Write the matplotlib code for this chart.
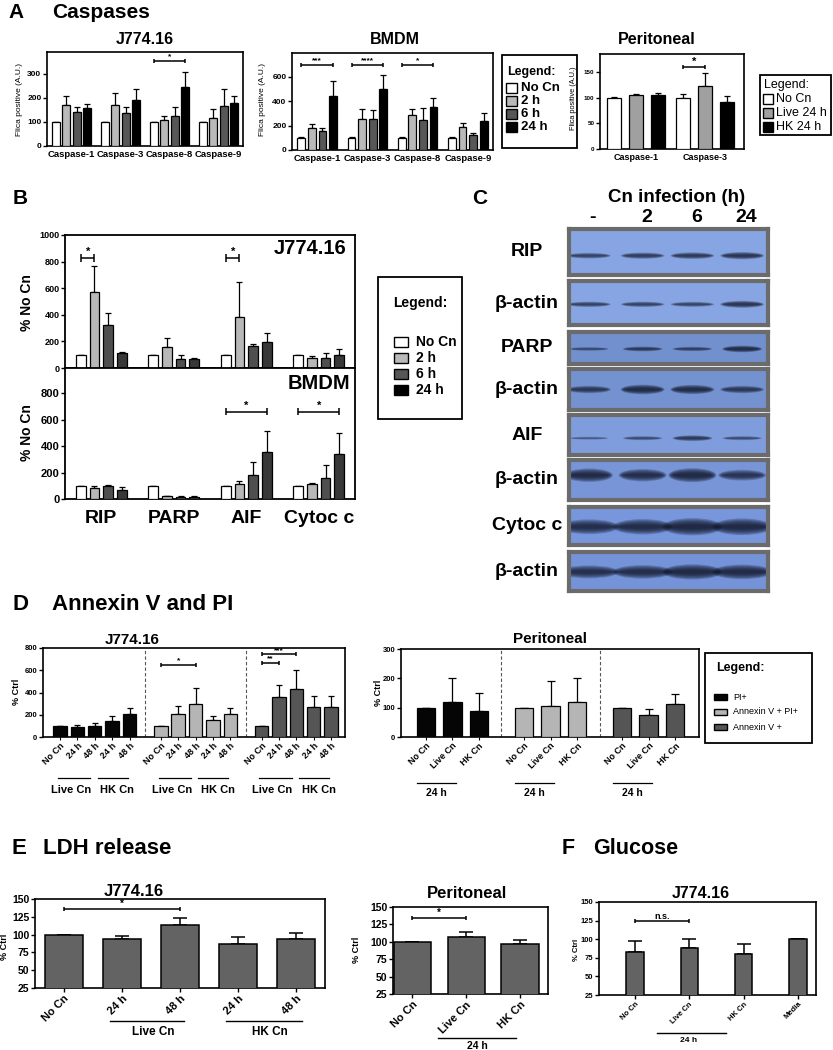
import numpy as np
import matplotlib
matplotlib.use("Agg")
import matplotlib.pyplot as plt
from matplotlib.patches import Rectangle, Ellipse
from matplotlib.transforms import blended_transform_factory as blend

plt.rcParams['font.family'] = ['Liberation Sans', 'DejaVu Sans']
plt.rcParams['font.weight'] = 'bold'

# ---------------- data ----------------
# Panel A : caspases
caspases = ['Caspase-1', 'Caspase-3', 'Caspase-8', 'Caspase-9']
a_j774_nocn = [100, 100, 100, 100]
a_j774_2h = [172, 172, 106, 117]
a_j774_6h = [140, 137, 126, 167]
a_j774_24h = [157, 189, 244, 177]
a_j774_nocn_err = [0, 0, 0, 0]
a_j774_2h_err = [35, 46, 17, 35]
a_j774_6h_err = [20, 24, 35, 69]
a_j774_24h_err = [18, 47, 62, 30]

a_bmdm_nocn = [100, 100, 100, 100]
a_bmdm_2h = [184, 252, 290, 189]
a_bmdm_6h = [156, 255, 249, 123]
a_bmdm_24h = [444, 499, 351, 238]
a_bmdm_nocn_err = [6, 6, 6, 6]
a_bmdm_2h_err = [30, 82, 50, 36]
a_bmdm_6h_err = [25, 71, 96, 19]
a_bmdm_24h_err = [120, 117, 79, 66]

peri_caspases = ['Caspase-1', 'Caspase-3']
a_peri_nocn = [100, 100]
a_peri_live = [106, 124]
a_peri_hk = [106, 93]
a_peri_nocn_err = [2, 8]
a_peri_live_err = [2, 24]
a_peri_hk_err = [4, 11]

time_legend = ['No Cn', '2 h', '6 h', '24 h']
peri_legend = ['No Cn', 'Live 24 h', 'HK 24 h']

# Panel B : western blot quantification
proteins = ['RIP', 'PARP', 'AIF', 'Cytoc c']
b_j774_nocn = [100, 100, 100, 100]
b_j774_2h = [574, 160, 386, 73]
b_j774_6h = [323, 68, 165, 78]
b_j774_24h = [115, 65, 198, 95]
b_j774_nocn_err = [0, 0, 0, 0]
b_j774_2h_err = [190, 63, 258, 15]
b_j774_6h_err = [88, 32, 13, 32]
b_j774_24h_err = [8, 10, 63, 45]
b_bmdm_nocn = [100, 100, 100, 100]
b_bmdm_2h = [85, 20, 110, 110]
b_bmdm_6h = [95, 18, 180, 160]
b_bmdm_24h = [70, 17, 355, 340]
b_bmdm_nocn_err = [0, 0, 0, 0]
b_bmdm_2h_err = [10, 3, 25, 8]
b_bmdm_6h_err = [8, 3, 100, 100]
b_bmdm_24h_err = [22, 3, 160, 160]

# Panel C : band intensities per lane (-, 2, 6, 24 h)
blot_labels = ['RIP', 'β-actin', 'PARP', 'β-actin', 'AIF', 'β-actin', 'Cytoc c', 'β-actin']
lane_labels = ['-', '2', '6', '24']
c_rip = [0.45, 0.55, 0.6, 0.7]
c_actin1 = [0.45, 0.45, 0.4, 0.7]
c_parp = [0.3, 0.55, 0.45, 0.9]
c_actin2 = [0.6, 0.9, 0.85, 0.6]
c_aif = [0.1, 0.3, 0.6, 0.3]
c_actin3 = [0.9, 0.8, 0.95, 0.65]
c_cytoc = [0.8, 0.85, 1.0, 0.95]
c_actin4 = [0.75, 0.8, 0.95, 0.9]

# Panel D : Annexin V and PI
d_j774_labels = ['No Cn', '24 h', '48 h', '24 h', '48 h']
d_j774_pi = [100, 90, 100, 143, 209]
d_j774_pi_err = [0, 20, 25, 42, 48]
d_j774_avpi = [100, 209, 296, 155, 206]
d_j774_avpi_err = [0, 66, 146, 30, 54]
d_j774_av = [100, 361, 430, 272, 272]
d_j774_av_err = [0, 102, 170, 101, 95]

d_peri_labels = ['No Cn', 'Live Cn', 'HK Cn']
d_peri_pi = [100, 120, 87]
d_peri_pi_err = [0, 81, 63]
d_peri_avpi = [100, 107, 118]
d_peri_avpi_err = [0, 83, 82]
d_peri_av = [100, 74, 112]
d_peri_av_err = [0, 23, 35]
d_legend = ['PI+', 'Annexin V + PI+', 'Annexin V +']

# Panel E : LDH release
e_j774_labels = ['No Cn', '24 h', '48 h', '24 h', '48 h']
e_j774 = [100, 94, 113, 87, 94]
e_j774_err = [0, 3.5, 10, 10, 8]
e_peri_labels = ['No Cn', 'Live Cn', 'HK Cn']
e_peri = [100, 107, 97.5]
e_peri_err = [0, 7, 5.5]

# Panel F : Glucose
f_labels = ['No Cn', 'Live Cn', 'HK Cn', 'Media']
f_j774 = [82.5, 87.5, 79.5, 100]
f_j774_err = [14.5, 13, 14.5, 0]

# ---------------- helpers ----------------
W, H = 833, 1050
fig = plt.figure(figsize=(W / 100, H / 100), dpi=100)
fig.patch.set_facecolor('white')


def axpx(x0, y0, x1, y1):
    return fig.add_axes([x0 / W, 1 - y1 / H, (x1 - x0) / W, (y1 - y0) / H])


over = fig.add_axes([0, 0, 1, 1], zorder=20)
over.set_xlim(0, W)
over.set_ylim(H, 0)
over.axis('off')


def bar_series(ax, x, vals, errs, color, width, cap=2.0, lw=0.9):
    x = np.asarray(x, dtype=float)
    ax.bar(x, vals, width, color=color, edgecolor='black', linewidth=lw, zorder=3)
    ax.errorbar(x, vals, yerr=[np.zeros(len(vals)), errs], fmt='none', ecolor='black',
                elinewidth=lw, capsize=cap, capthick=lw, zorder=2)


def sig(ax, x0, x1, y, txt, dy, fs=7, lw=1.1):
    kw = dict(color='black', lw=lw, clip_on=False, zorder=5, solid_capstyle='butt')
    ax.plot([x0, x1], [y, y], **kw)
    ax.plot([x0, x0], [y - dy, y + dy], **kw)
    ax.plot([x1, x1], [y - dy, y + dy], **kw)
    ax.text((x0 + x1) / 2, y + dy * 0.3, txt, ha='center', va='bottom', fontsize=fs,
            fontweight='bold', zorder=5)


def style(ax, ylim, yticks, fs, lw=1.2):
    ax.set_ylim(*ylim)
    ax.set_yticks(yticks)
    ax.tick_params(axis='y', length=3, width=1, labelsize=fs, pad=1)
    for s in ax.spines.values():
        s.set_linewidth(lw)


def legend_box(x0, y0, x1, y1, title, title_xy, title_fs, title_w,
               labels, colors, ys, px, pw, ph, tx, fs, w):
    over.add_patch(Rectangle((x0, y0), x1 - x0, y1 - y0, facecolor='white',
                             edgecolor='black', lw=1.3))
    over.text(title_xy[0], title_xy[1], title, fontsize=title_fs, fontweight=title_w,
              va='center', ha='left')
    for lab, col, y in zip(labels, colors, ys):
        over.add_patch(Rectangle((px, y - ph / 2), pw, ph, facecolor=col,
                                 edgecolor='black', lw=1.0))
        over.text(tx, y, lab, fontsize=fs, fontweight=w, va='center', ha='left')


casp_cols = ['white', '#b9b9b9', '#575757', 'black']
b_cols = ['white', '#b8b8b8', '#4f4f4f', '#383838']
peri_cols = ['white', '#a0a0a0', 'black']
d_cols = ['#050505', '#b5b5b5', '#555555']
ef_col = '#636363'

# ================= Panel A =================
over.text(8, 13, 'A', fontsize=15, va='center', ha='left')
over.text(52, 13, 'Caspases', fontsize=15, va='center', ha='left')

off4 = np.array([-0.315, -0.105, 0.105, 0.315])
g4 = np.arange(4)

ax = axpx(47, 52, 243, 146)
for k, (v, e) in enumerate([(a_j774_nocn, a_j774_nocn_err), (a_j774_2h, a_j774_2h_err),
                            (a_j774_6h, a_j774_6h_err), (a_j774_24h, a_j774_24h_err)]):
    bar_series(ax, g4 + off4[k], v, e, casp_cols[k], 0.16, cap=2)
ax.set_xlim(-0.5, 3.5)
style(ax, (0, 390), [0, 100, 200, 300], 6)
ax.set_xticks(g4, caspases, fontsize=6.8)
ax.tick_params(axis='x', length=0, pad=3)
sig(ax, 2 + off4[0], 2 + off4[3], 352, '*', 9, fs=6)
over.text(145, 40, 'J774.16', fontsize=11.5, ha='center', va='center')
over.text(20, 100, 'Flica positive (A.U.)', fontsize=6, fontweight='normal',
          rotation=90, ha='center', va='center')

ax = axpx(292, 53, 493, 150)
for k, (v, e) in enumerate([(a_bmdm_nocn, a_bmdm_nocn_err), (a_bmdm_2h, a_bmdm_2h_err),
                            (a_bmdm_6h, a_bmdm_6h_err), (a_bmdm_24h, a_bmdm_24h_err)]):
    bar_series(ax, g4 + off4[k], v, e, casp_cols[k], 0.155, cap=2)
ax.set_xlim(-0.5, 3.5)
style(ax, (0, 795), [0, 200, 400, 600], 6)
ax.set_xticks(g4, caspases, fontsize=6.8)
ax.tick_params(axis='x', length=0, pad=3)
sig(ax, 0 + off4[0], 0 + off4[3], 699, '***', 18, fs=6)
sig(ax, 1 + off4[0], 1 + off4[3], 699, '****', 18, fs=6)
sig(ax, 2 + off4[0], 2 + off4[3], 699, '*', 18, fs=6)
over.text(395, 40, 'BMDM', fontsize=11.5, ha='center', va='center')
over.text(263, 100, 'Flica positive (A.U.)', fontsize=6, fontweight='normal',
          rotation=90, ha='center', va='center')

legend_box(502, 55, 577, 148, 'Legend:', (507, 72), 9, 'bold', time_legend, casp_cols,
           [88, 101, 114, 127], 506, 11, 10, 521, 9.5, 'bold')

off3 = np.array([-0.32, 0.0, 0.32])
g2 = np.arange(2)
ax = axpx(600, 54, 744, 149)
for k, (v, e) in enumerate([(a_peri_nocn, a_peri_nocn_err), (a_peri_live, a_peri_live_err),
                            (a_peri_hk, a_peri_hk_err)]):
    bar_series(ax, g2 + off3[k], v, e, peri_cols[k], 0.2, cap=2.5)
ax.set_xlim(-0.52, 1.57)
style(ax, (0, 186), [0, 50, 100, 150], 4.5)
ax.set_xticks(g2, peri_caspases, fontsize=6.5)
ax.tick_params(axis='x', length=0, pad=3)
sig(ax, 1 + off3[0], 1 + off3[1], 160, '*', 4, fs=8)
over.text(657, 40, 'Peritoneal', fontsize=11.5, ha='center', va='center')
over.text(574, 98, 'Flica positive (A.U.)', fontsize=5.3, fontweight='normal',
          rotation=90, ha='center', va='center')

legend_box(760, 75, 831, 135, 'Legend:', (764, 85), 9, 'normal', peri_legend, peri_cols,
           [99, 113, 127], 763, 10, 10, 776, 9, 'normal')

# ================= Panel B =================
over.text(13, 199, 'B', fontsize=15, va='center', ha='left')
offb = np.array([-0.28, -0.0935, 0.0935, 0.28])

axu = axpx(65, 235, 355, 368)
for k, (v, e) in enumerate([(b_j774_nocn, b_j774_nocn_err), (b_j774_2h, b_j774_2h_err),
                            (b_j774_6h, b_j774_6h_err), (b_j774_24h, b_j774_24h_err)]):
    bar_series(axu, g4 + offb[k], v, e, b_cols[k], 0.137, cap=2.5)
axu.set_xlim(-0.5, 3.5)
style(axu, (0, 1000), [0, 200, 400, 600, 800, 1000], 6.5, lw=1.3)
axu.set_xticks([])
sig(axu, 0 + offb[0], 0 + offb[1], 827, '*', 28, fs=8)
sig(axu, 2 + offb[0], 2 + offb[1], 827, '*', 28, fs=8)
axu.text(0.97, 0.9, 'J774.16', transform=axu.transAxes, fontsize=14.5, ha='right', va='center')

axl = axpx(65, 368, 355, 499)
for k, (v, e) in enumerate([(b_bmdm_nocn, b_bmdm_nocn_err), (b_bmdm_2h, b_bmdm_2h_err),
                            (b_bmdm_6h, b_bmdm_6h_err), (b_bmdm_24h, b_bmdm_24h_err)]):
    bar_series(axl, g4 + offb[k], v, e, b_cols[k], 0.137, cap=2.5)
axl.set_xlim(-0.5, 3.5)
style(axl, (0, 990), [0, 200, 400, 600, 800], 8, lw=1.3)
axl.set_xticks(g4, proteins, fontsize=14)
axl.tick_params(axis='x', length=0, pad=8)
sig(axl, 2 + offb[0], 2 + offb[3], 660, '*', 28, fs=8)
sig(axl, 3 + offb[0], 3 + offb[3], 660, '*', 28, fs=8)
axl.text(0.985, 0.88, 'BMDM', transform=axl.transAxes, fontsize=14.5, ha='right', va='center')

over.text(27, 303, '% No Cn', fontsize=10, rotation=90, ha='center', va='center')
over.text(27, 433, '% No Cn', fontsize=10, rotation=90, ha='center', va='center')

legend_box(378, 277, 462, 419, 'Legend:', (393, 303), 10, 'bold', time_legend, casp_cols,
           [342, 358, 374, 390], 394, 14, 9.5, 416, 10, 'bold')

# ================= Panel C =================
over.text(472, 199, 'C', fontsize=15, va='center', ha='left')
over.text(677, 197, 'Cn infection (h)', fontsize=13.5, ha='center', va='center')
lane_x = [0.10, 0.37, 0.62, 0.87]

blot_rows = [(227, 277), (279, 327), (330, 366), (367, 412),
             (413, 457), (458, 502), (505, 547), (550, 593)]
blot_bg = ['#87a5e2', '#87a5e2', '#7190cd', '#7492d0',
           '#7f9ddd', '#7895d8', '#7896dc', '#7593d8']
blot_int = [c_rip, c_actin1, c_parp, c_actin2, c_aif, c_actin3, c_cytoc, c_actin4]
blot_y = [0.42, 0.47, 0.47, 0.5, 0.42, 0.62, 0.48, 0.49]
blot_w = [0.22, 0.22, 0.2, 0.22, 0.2, 0.24, 0.3, 0.3]
blot_h = [0.2, 0.2, 0.22, 0.25, 0.2, 0.36, 0.45, 0.4]

for (y0, y1), bg, ints, by, bw, bh, lab in zip(blot_rows, blot_bg, blot_int, blot_y,
                                                blot_w, blot_h, blot_labels):
    bax = axpx(569, y0 + 2, 768, y1 - 2)
    bax.set_facecolor(bg)
    bax.set_xlim(0, 1)
    bax.set_ylim(0, 1)
    bax.set_xticks([])
    bax.set_yticks([])
    for s in bax.spines.values():
        s.set_linewidth(3)
        s.set_color('#6b6b6b')
    for x, v in zip(lane_x, ints):
        for k in range(6):
            f = 1 - k * 0.15
            bax.add_patch(Ellipse((x, by), bw * (0.75 + 0.25 * f), bh * (0.3 + 0.7 * v) * f,
                                  facecolor='#141a2e', alpha=0.10 + 0.18 * v, lw=0))
    over.text(527, (y0 + y1) / 2, lab, fontsize=14, ha='center', va='center')

for lx, ll in zip(lane_x, lane_labels):
    over.text(569 + lx * 199 + 4, 218, ll, fontsize=14, ha='center', va='center')

# ================= Panel D =================
over.text(13, 605, 'D', fontsize=16, va='center', ha='left')
over.text(52, 605, 'Annexin V and PI', fontsize=16, va='center', ha='left')

ax = axpx(43, 648, 345, 737)
starts = [0, 5.8, 11.6]
for g, (v, e, c) in enumerate([(d_j774_pi, d_j774_pi_err, d_cols[0]),
                                (d_j774_avpi, d_j774_avpi_err, d_cols[1]),
                                (d_j774_av, d_j774_av_err, d_cols[2])]):
    bar_series(ax, starts[g] + np.arange(5), v, e, c, 0.77, cap=2.5)
ax.set_xlim(-0.98, 16.4)
style(ax, (0, 800), [0, 200, 400, 600, 800], 5.5)
for g in range(2):
    ax.axvline((starts[g] + 4 + starts[g + 1]) / 2, color='#555555', lw=0.8, ls=(0, (3, 2)))
pos = np.concatenate([s + np.arange(5) for s in starts])
ax.set_xticks(pos, d_j774_labels * 3, rotation=45, ha='right', rotation_mode='anchor',
              fontsize=6.5)
ax.tick_params(axis='x', length=2, width=0.8, pad=1)
sig(ax, starts[1], starts[1] + 2, 648, '*', 18, fs=6)
sig(ax, starts[2], starts[2] + 1, 663, '**', 18, fs=6)
sig(ax, starts[2], starts[2] + 2, 743, '***', 18, fs=6)
tr = blend(ax.transData, ax.transAxes)
for s in starts:
    for a, b, tc, t in [(s - 0.13, s + 1.73, s + 0.63, 'Live Cn'),
                        (s + 2.16, s + 3.89, s + 3.3, 'HK Cn')]:
        ax.plot([a, b], [-0.46, -0.46], color='black', lw=0.9, transform=tr, clip_on=False)
        ax.text(tc, -0.59, t, transform=tr, fontsize=8, ha='center', va='center')
over.text(132, 640, 'J774.16', fontsize=11, ha='center', va='center')
over.text(17, 692, '% Ctrl', fontsize=6.5, rotation=90, ha='center', va='center')

ax = axpx(401, 649, 699, 737)
pstarts = [0, 3.7, 7.4]
for g, (v, e, c) in enumerate([(d_peri_pi, d_peri_pi_err, d_cols[0]),
                                (d_peri_avpi, d_peri_avpi_err, d_cols[1]),
                                (d_peri_av, d_peri_av_err, d_cols[2])]):
    bar_series(ax, pstarts[g] + np.arange(3), v, e, c, 0.69, cap=3)
ax.set_xlim(-0.94, 10.3)
style(ax, (0, 300), [0, 100, 200, 300], 5.5)
for g in range(2):
    ax.axvline((pstarts[g] + 2 + pstarts[g + 1]) / 2, color='#555555', lw=0.8, ls=(0, (3, 2)))
ppos = np.concatenate([s + np.arange(3) for s in pstarts])
ax.set_xticks(ppos, d_peri_labels * 3, rotation=45, ha='right', rotation_mode='anchor',
              fontsize=6.5)
ax.tick_params(axis='x', length=2, width=0.8, pad=1)
tr = blend(ax.transData, ax.transAxes)
for s in pstarts:
    a, b = s - 0.34, s + 2 - 0.86
    ax.plot([a, b], [-0.52, -0.52], color='black', lw=0.9, transform=tr, clip_on=False)
    ax.text((a + b) / 2, -0.64, '24 h', transform=tr, fontsize=7.5, ha='center', va='center')
over.text(550, 639, 'Peritoneal', fontsize=11, ha='center', va='center')
over.text(379, 693, '% Ctrl', fontsize=6.5, rotation=90, ha='center', va='center')

legend_box(705, 653, 812, 743, 'Legend:', (716, 668), 9, 'bold', d_legend, d_cols,
           [697, 712, 727], 714, 13, 6.5, 733, 6.5, 'normal')

# ================= Panel E =================
over.text(12, 848, 'E', fontsize=16, va='center', ha='left')
over.text(43, 848, 'LDH release', fontsize=16, va='center', ha='left')

ax = axpx(35, 899, 325, 988)
xe = np.arange(5)
bar_series(ax, xe, e_j774, e_j774_err, ef_col, 0.66, cap=5, lw=1.1)
ax.set_xlim(-0.5, 4.5)
style(ax, (25, 150), [25, 50, 75, 100, 125, 150], 7.5)
ax.set_xticks(xe, e_j774_labels, rotation=45, ha='right', rotation_mode='anchor', fontsize=8)
ax.tick_params(axis='x', length=3, width=1, pad=1)
sig(ax, 0, 2, 136, '*', 2.5, fs=7)
tr = blend(ax.transData, ax.transAxes)
for a, b, t in [(1 - 0.2, 2 + 0.07, 'Live Cn'), (3 - 0.2, 4 + 0.1, 'HK Cn')]:
    ax.plot([a, b], [-0.37, -0.37], color='black', lw=1.0, transform=tr, clip_on=False)
    ax.text((a + b) / 2 + 0.1, -0.49, t, transform=tr, fontsize=8.5, ha='center', va='center')
over.text(134, 891, 'J774.16', fontsize=12, ha='center', va='center')
over.text(5, 947, '% Ctrl', fontsize=6.5, rotation=90, ha='center', va='center')

ax = axpx(393, 907, 548, 994)
xp = np.arange(3)
bar_series(ax, xp, e_peri, e_peri_err, ef_col, 0.69, cap=5, lw=1.1)
ax.set_xlim(-0.36, 2.52)
style(ax, (25, 150), [25, 50, 75, 100, 125, 150], 7.5)
ax.set_xticks(xp, e_peri_labels, rotation=45, ha='right', rotation_mode='anchor', fontsize=8)
ax.tick_params(axis='x', length=3, width=1, pad=1)
sig(ax, 0, 1, 134, '*', 2.5, fs=7)
tr = blend(ax.transData, ax.transAxes)
ax.plot([1 - 0.52, 2 - 0.07], [-0.51, -0.51], color='black', lw=1.0, transform=tr, clip_on=False)
ax.text(1.2, -0.6, '24 h', transform=tr, fontsize=7.5, ha='center', va='center')
over.text(467, 893, 'Peritoneal', fontsize=12, ha='center', va='center')
over.text(357, 950, '% Ctrl', fontsize=6.5, rotation=90, ha='center', va='center')

# ================= Panel F =================
over.text(562, 848, 'F', fontsize=15.5, va='center', ha='left')
over.text(593, 848, 'Glucose', fontsize=15.5, va='center', ha='left')

ax = axpx(599, 902, 816, 995)
xf = np.arange(4)
bar_series(ax, xf, f_j774, f_j774_err, ef_col, 0.32, cap=5, lw=1.1)
ax.set_xlim(-0.66, 3.33)
style(ax, (25, 150), [25, 50, 75, 100, 125, 150], 5.5)
ax.set_xticks(xf, f_labels, rotation=45, ha='right', rotation_mode='anchor', fontsize=5.5)
ax.tick_params(axis='x', length=3, width=1, pad=1)
sig(ax, 0, 1, 124, 'n.s.', 2.5, fs=6.5)
tr = blend(ax.transData, ax.transAxes)
ax.plot([1 - 0.6, 2 - 0.33], [-0.41, -0.41], color='black', lw=1.0, transform=tr, clip_on=False)
ax.text(0.98, -0.49, '24 h', transform=tr, fontsize=6, ha='center', va='center')
over.text(701, 893, 'J774.16', fontsize=11.5, ha='center', va='center')
over.text(577, 950, '% Ctrl', fontsize=5.5, rotation=90, ha='center', va='center')

fig.savefig('out.png', dpi=100, facecolor='white')
